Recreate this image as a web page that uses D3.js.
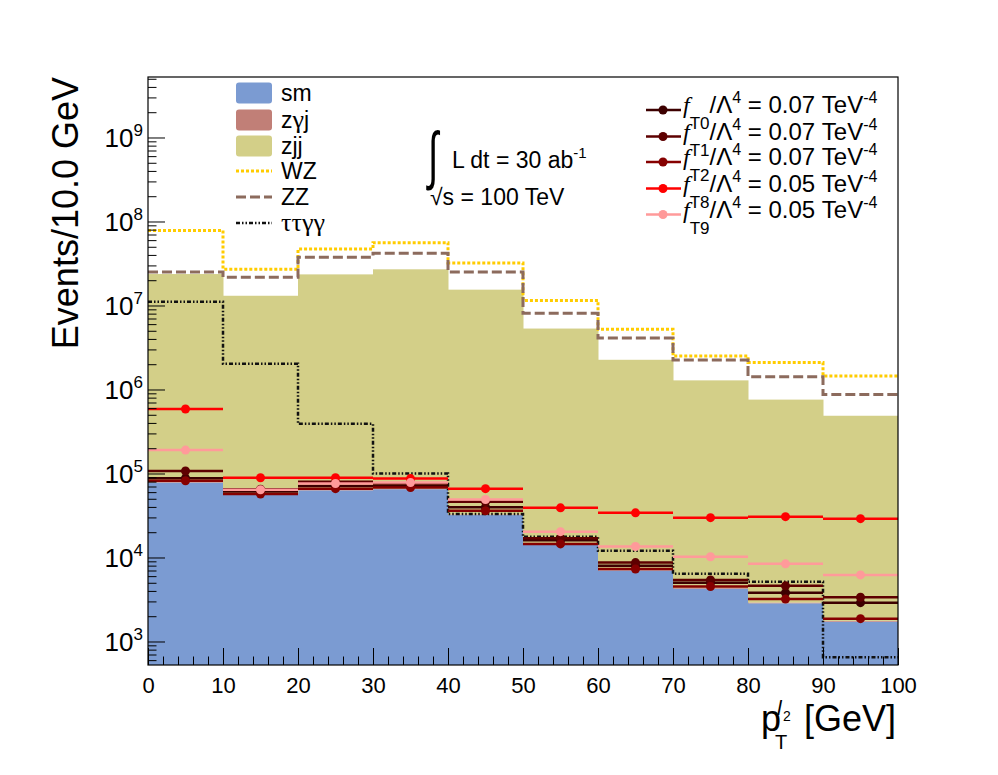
<!DOCTYPE html>
<html>
<head>
<meta charset="utf-8">
<script src="https://cdn.jsdelivr.net/npm/d3@7"></script>
<style>
body{margin:0;background:#fff;}
text{font-family:"Liberation Sans",Arial,Helvetica,sans-serif;fill:#000;}
</style>
</head>
<body>
<svg width="998" height="775"></svg>
<script>
// bin edges of the pT(l2) histogram, GeV
const binEdges = [0,10,20,30,40,50,60,70,80,90,100];
const xTicks = [0,10,20,30,40,50,60,70,80,90,100];
const yPowers = [3,4,5,6,7,8,9];

// stacked backgrounds (per bin)
const sm  = [7.8e4,5.7e4,6.3e4,6.5e4,3.2e4,1.45e4,7.0e3,4.25e3,2.85e3,1.72e3];
const zgj = [1.2e3,900,1.0e3,1.0e3,600,300,150,90,60,40];
const zjj = [2.36e7,1.3e7,2.34e7,2.69e7,1.54e7,5.3e6,2.25e6,1.28e6,7.55e5,4.85e5];

// overlaid backgrounds
const wz     = [7.8e7,2.7e7,4.7e7,5.6e7,3.2e7,1.15e7,5.2e6,2.5e6,2.09e6,1.45e6];
const zz     = [2.5e7,2.17e7,3.75e7,4.2e7,2.5e7,8.1e6,4.1e6,2.24e6,1.42e6,8.7e5];
const tautau = [1.11e7,2.03e6,3.9e5,1.0e5,3.3e4,1.77e4,1.2e4,6.4e3,5.15e3,650];

// aQGC signals
const fT0 = [8.8e4,6.1e4,7.1e4,7.1e4,3.97e4,1.6e4,8.0e3,5.0e3,3.8e3,2.9e3];
const fT1 = [1.07e5,6.5e4,7.95e4,7.6e4,4.6e4,1.7e4,8.7e3,5.4e3,4.6e3,3.36e3];
const fT2 = [8.2e4,5.7e4,6.6e4,6.8e4,3.6e4,1.45e4,7.3e3,4.5e3,3.2e3,1.87e3];
const fT8 = [5.86e5,8.9e4,8.9e4,8.7e4,6.6e4,3.9e4,3.4e4,2.98e4,3.06e4,2.9e4];
const fT9 = [1.9e5,6.4e4,7.6e4,7.8e4,4.9e4,2.03e4,1.35e4,1.02e4,8.4e3,6.2e3];

const svg = d3.select('svg');
const width = +svg.attr('width');
const height = +svg.attr('height');
const margin = {top:77, right:100, bottom:110, left:148};
const innerWidth = width - margin.left - margin.right;
const innerHeight = height - margin.top - margin.bottom;

const xScale = d3.scaleLinear().domain([0,100]).range([0,innerWidth]);
const yScale = d3.scaleLog().domain([525,5.25e9]).range([innerHeight,0]);
const yMin = yScale.domain()[0];

const g = svg.append('g').attr('transform',`translate(${margin.left},${margin.top})`);

svg.append('defs').append('clipPath').attr('id','plotclip')
  .append('rect').attr('width',innerWidth).attr('height',innerHeight);
const plot = g.append('g').attr('clip-path','url(#plotclip)');

// stacked fills
const bins = sm.map((d,i)=>({lo:binEdges[i],hi:binEdges[i+1],sm:sm[i],zgj:zgj[i],zjj:zjj[i]}));
const stack = d3.stack().keys(['sm','zgj','zjj'])(bins);
const fillColors = {sm:'#7b9bd2', zgj:'#c17f77', zjj:'#d3cf88'};

stack.forEach(layer=>{
  plot.append('g').selectAll('rect').data(layer).enter().append('rect')
    .attr('x',d=>xScale(d.data.lo))
    .attr('width',d=>xScale(d.data.hi)-xScale(d.data.lo)+0.5)
    .attr('y',d=>yScale(d[1]))
    .attr('height',d=>yScale(Math.max(d[0],yMin))-yScale(d[1]))
    .attr('fill',fillColors[layer.key]);
});

// step outlines
const stepPath = vals=>{
  let p = `M${xScale(binEdges[0])},${yScale(vals[0])}`;
  vals.forEach((v,i)=>{
    if(i>0) p += `V${yScale(v)}`;
    p += `H${xScale(binEdges[i+1])}`;
  });
  return p;
};
const lines = [
  {vals:wz, color:'#ffcc00', w:3, dash:'3,2'},
  {vals:zz, color:'#8c6b5d', w:3, dash:'10,4'},
  {vals:tautau, color:'#111', w:2.5, dash:'4,2,1.5,2,1.5,2'}
];
lines.forEach(l=>{
  plot.append('path').attr('d',stepPath(l.vals))
    .attr('fill','none').attr('stroke',l.color)
    .attr('stroke-width',l.w).attr('stroke-dasharray',l.dash);
});

// signal points
const signals = [
  {vals:fT0, color:'#3d0000', label:'T0', coef:'0.07'},
  {vals:fT1, color:'#5e0000', label:'T1', coef:'0.07'},
  {vals:fT2, color:'#860000', label:'T2', coef:'0.07'},
  {vals:fT8, color:'#ff0000', label:'T8', coef:'0.05'},
  {vals:fT9, color:'#ff9a9a', label:'T9', coef:'0.05'}
];
signals.forEach(s=>{
  const sg = plot.append('g');
  sg.selectAll('line').data(s.vals).enter().append('line')
    .attr('x1',(d,i)=>xScale(binEdges[i]))
    .attr('x2',(d,i)=>xScale(binEdges[i+1]))
    .attr('y1',d=>yScale(d)).attr('y2',d=>yScale(d))
    .attr('stroke',s.color).attr('stroke-width',2.5);
  sg.selectAll('circle').data(s.vals).enter().append('circle')
    .attr('cx',(d,i)=>xScale((binEdges[i]+binEdges[i+1])/2))
    .attr('cy',d=>yScale(d)).attr('r',4.5)
    .attr('fill',s.color);
});

// x axis (ticks inside)
const xAxisG = g.append('g').attr('transform',`translate(0,${innerHeight})`)
  .call(d3.axisBottom(xScale).tickValues(xTicks).tickSize(-17).tickPadding(12));
xAxisG.select('.domain').remove();
xAxisG.selectAll('text').attr('font-size',22).attr('fill','#000');
const xMinor = g.append('g').attr('transform',`translate(0,${innerHeight})`)
  .call(d3.axisBottom(xScale).tickValues(d3.range(0,101,2)).tickSize(-8.5).tickFormat(''));
xMinor.select('.domain').remove();
xMinor.selectAll('text').remove();

// y axis (log, ticks inside)
const yAxisG = g.append('g')
  .call(d3.axisLeft(yScale).tickValues(yPowers.map(p=>Math.pow(10,p))).tickSize(-17).tickFormat(''));
yAxisG.select('.domain').remove();
yAxisG.selectAll('text').remove();
yAxisG.selectAll('.tick').each(function(d,i){
  const t = d3.select(this).append('text')
    .attr('x',-5).attr('dy','0.36em').attr('text-anchor','end')
    .attr('font-size',26);
  t.append('tspan').text('10');
  t.append('tspan').attr('dy',-11).attr('font-size',17).text(yPowers[i]);
});
const minorVals = [];
d3.range(2,10).forEach(p=>[2,3,4,5,6,7,8,9].forEach(k=>{
  const v = k*Math.pow(10,p);
  if(v>yMin && v<yScale.domain()[1]) minorVals.push(v);
}));
const yMinor = g.append('g')
  .call(d3.axisLeft(yScale).tickValues(minorVals).tickSize(-8.5).tickFormat(''));
yMinor.select('.domain').remove();
yMinor.selectAll('text').remove();

// frame
g.append('rect').attr('width',innerWidth).attr('height',innerHeight)
  .attr('fill','none').attr('stroke','#000').attr('stroke-width',1.2);

// axis titles
svg.append('text')
  .attr('transform',`translate(78,${margin.top}) rotate(-90)`)
  .attr('text-anchor','end').attr('font-size',36)
  .text('Events/10.0 GeV');

const xt = svg.append('g');
xt.append('text').attr('x',761).attr('y',731).attr('font-size',36).text('p');
xt.append('text').attr('x',777).attr('y',715).attr('font-size',21)
  .attr('font-family','"Liberation Serif",serif').attr('font-style','italic').text('l');
xt.append('text').attr('x',783).attr('y',721).attr('font-size',14).text('2');
xt.append('text').attr('x',775).attr('y',749).attr('font-size',20).text('T');
xt.append('text').attr('x',896).attr('y',731).attr('font-size',36)
  .attr('text-anchor','end').text('[GeV]');

// luminosity / energy annotation
svg.append('text').attr('transform','translate(428,177) scale(0.85,1.45)')
  .attr('font-size',44).text('\u222B');
const lum = svg.append('text').attr('x',452).attr('y',168).attr('font-size',23);
lum.append('tspan').text('L dt = 30 ab');
lum.append('tspan').attr('dy',-10).attr('font-size',15).text('-1');
svg.append('text').attr('x',430).attr('y',205).attr('font-size',23).text('\u221As = 100 TeV');

// left legend
const greek = '"Liberation Serif","DejaVu Serif",serif';
const legBg = [
  {name:[['sm']], type:'box', color:fillColors.sm},
  {name:[['z'],['\u03B3',1],['j']], type:'box', color:fillColors.zgj},
  {name:[['zjj']], type:'box', color:fillColors.zjj},
  {name:[['WZ']], type:'line', line:lines[0]},
  {name:[['ZZ']], type:'line', line:lines[1]},
  {name:[['\u03C4\u03C4\u03B3\u03B3',1]], type:'line', line:lines[2]}
];
const legRows = [93,120,146,171,197,223];
legBg.forEach((e,i)=>{
  const yy = legRows[i];
  if(e.type==='box'){
    svg.append('rect').attr('x',236).attr('y',yy-10.5).attr('width',36).attr('height',21)
      .attr('rx',3).attr('fill',e.color);
  } else {
    svg.append('line').attr('x1',236).attr('x2',272).attr('y1',yy).attr('y2',yy)
      .attr('stroke',e.line.color).attr('stroke-width',e.line.w)
      .attr('stroke-dasharray',e.line.dash);
  }
  const t = svg.append('text').attr('x',281).attr('y',yy+8).attr('font-size',23);
  e.name.forEach(part=>{
    const ts = t.append('tspan').text(part[0]);
    if(part[1]) ts.attr('font-family',greek).attr('font-size',26);
  });
});

// right legend
const sigRows = [110,136.5,162,188.5,214.5];
signals.forEach((s,i)=>{
  const yy = sigRows[i];
  svg.append('line').attr('x1',646).attr('x2',681).attr('y1',yy).attr('y2',yy)
    .attr('stroke',s.color).attr('stroke-width',2.5);
  svg.append('circle').attr('cx',663).attr('cy',yy).attr('r',4.5).attr('fill',s.color);
  const t = svg.append('text').attr('x',683).attr('y',yy+3).attr('font-size',24);
  t.append('tspan').attr('font-family','"Liberation Serif",serif').attr('font-style','italic').text('f');
  t.append('tspan').attr('dy',16).attr('font-size',17).text(s.label);
  t.append('tspan').attr('dy',-16).text('/\u039B');
  t.append('tspan').attr('dy',-10).attr('font-size',16).text('4');
  t.append('tspan').attr('dy',10).text(` = ${s.coef} TeV`);
  t.append('tspan').attr('dy',-10).attr('font-size',16).text('-4');
});
</script>
</body>
</html>
